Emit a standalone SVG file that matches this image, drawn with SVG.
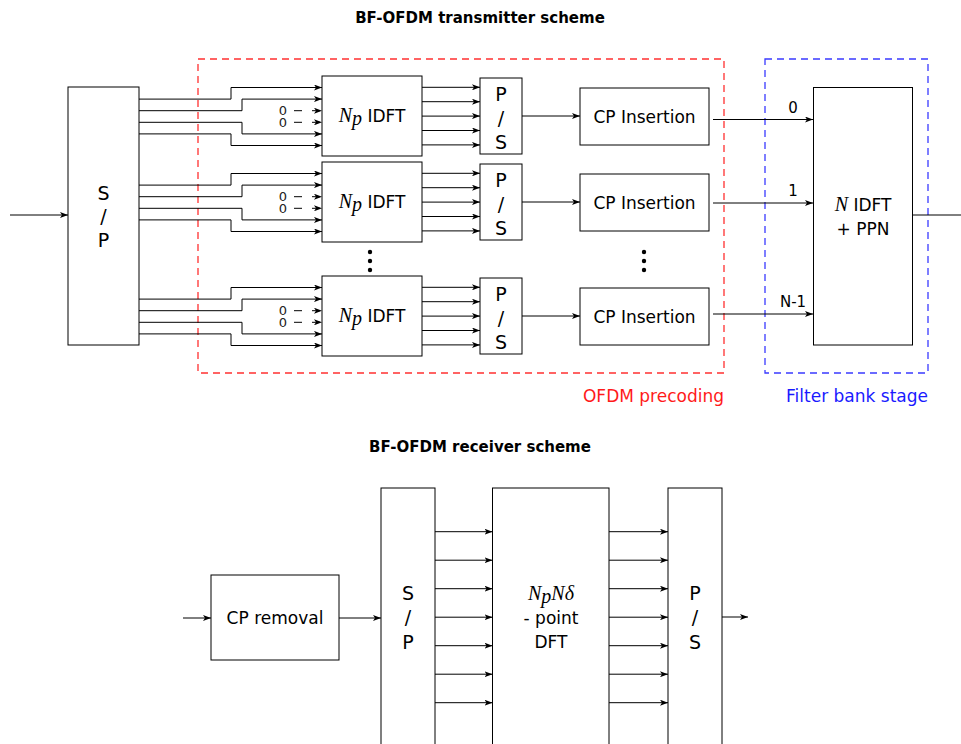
<svg xmlns="http://www.w3.org/2000/svg" width="961" height="744" viewBox="0 0 961 744">
<defs>
<marker id="ah" viewBox="0 0 8 6" refX="8" refY="3" markerWidth="8" markerHeight="6" markerUnits="userSpaceOnUse" orient="auto">
<path d="M0,0 L8,3 L0,6 L2,3 Z" fill="#000"/>
</marker>
<g id="grp">
<path class="ln" d="M139,99.1 H231 V87.5 H322" marker-end="url(#ah)"/>
<path class="ln" d="M139,110.7 H242 V99.1 H322" marker-end="url(#ah)"/>
<path class="ln" d="M139,122.3 H242 V133.9 H322" marker-end="url(#ah)"/>
<path class="ln" d="M139,133.9 H231 V145.5 H322" marker-end="url(#ah)"/>
<line class="dl" x1="294" y1="110.7" x2="322" y2="110.7" marker-end="url(#ah)"/>
<line class="dl" x1="294" y1="122.3" x2="322" y2="122.3" marker-end="url(#ah)"/>
<text class="zero" x="283" y="115.3">0</text>
<text class="zero" x="283" y="126.9">0</text>
<rect class="box" x="322" y="76" width="100" height="80"/>
<text class="t" x="372" y="122"><tspan class="m">N</tspan><tspan class="m" font-size="12" dy="3">p</tspan><tspan dy="-3"> IDFT</tspan></text>
<line class="ln" x1="422" y1="87.3" x2="480" y2="87.3" marker-end="url(#ah)"/>
<line class="ln" x1="422" y1="101.7" x2="480" y2="101.7" marker-end="url(#ah)"/>
<line class="ln" x1="422" y1="116.1" x2="480" y2="116.1" marker-end="url(#ah)"/>
<line class="ln" x1="422" y1="130.5" x2="480" y2="130.5" marker-end="url(#ah)"/>
<line class="ln" x1="422" y1="144.9" x2="480" y2="144.9" marker-end="url(#ah)"/>
<rect class="box" x="480" y="78" width="42" height="76"/>
<text class="t big" x="501" y="100.5">P</text>
<text class="t big" x="501" y="125">/</text>
<text class="t big" x="501" y="148.5">S</text>
<line class="ln" x1="522" y1="116" x2="580" y2="116" marker-end="url(#ah)"/>
<rect class="box" x="580" y="88" width="129" height="57"/>
<text class="t" x="644.5" y="123">CP Insertion</text>
</g>
</defs>
<style>
.box{fill:#fff;stroke:#000;stroke-width:1}
.ln{fill:none;stroke:#000;stroke-width:1}
.dl{fill:none;stroke:#000;stroke-width:1;stroke-dasharray:8,10}
.t{font-family:"DejaVu Sans",sans-serif;font-size:17px;text-anchor:middle;fill:#000}
.big{font-size:19px}
.m{font-family:"Liberation Serif",serif;font-style:italic;font-size:20px}
.zero{font-family:"DejaVu Sans",sans-serif;font-size:13px;text-anchor:middle;fill:#222}
.lbl{font-family:"DejaVu Sans",sans-serif;font-size:15px;text-anchor:middle;fill:#000}
.title{font-family:"DejaVu Sans",sans-serif;font-size:15px;font-weight:bold;text-anchor:middle;fill:#000}
</style>
<rect width="961" height="744" fill="#fff"/>
<text class="title" x="480" y="23">BF-OFDM transmitter scheme</text>
<g id="region-ofdm">
<rect x="198" y="59" width="526" height="314" fill="none" stroke="#ff3030" stroke-width="1.3" stroke-dasharray="7,5"/>
<text x="724" y="402" font-family="DejaVu Sans, sans-serif" font-size="17" fill="#ff1a1a" text-anchor="end">OFDM precoding</text>
</g>
<g id="region-fb">
<rect x="765" y="59" width="163" height="314" fill="none" stroke="#3a3aff" stroke-width="1.3" stroke-dasharray="7,5"/>
<text x="928" y="402" font-family="DejaVu Sans, sans-serif" font-size="17" fill="#1a1aff" text-anchor="end">Filter bank stage</text>
</g>
<g id="connectors">
<line class="ln" x1="10" y1="215" x2="68" y2="215" marker-end="url(#ah)"/>
<line class="ln" x1="713" y1="119.5" x2="813" y2="119.5" marker-end="url(#ah)"/>
<line class="ln" x1="713" y1="203" x2="813" y2="203" marker-end="url(#ah)"/>
<line class="ln" x1="713" y1="314" x2="813" y2="314" marker-end="url(#ah)"/>
<line class="ln" x1="913" y1="215" x2="961" y2="215"/>
<text class="lbl" x="793" y="113">0</text>
<text class="lbl" x="793" y="196">1</text>
<text class="lbl" x="793" y="307">N-1</text>
<line class="ln" x1="183" y1="618" x2="211" y2="618" marker-end="url(#ah)"/>
<line class="ln" x1="339" y1="618" x2="381" y2="618" marker-end="url(#ah)"/>
<line class="ln" x1="722" y1="617" x2="748" y2="617" marker-end="url(#ah)"/>
<g id="rx-arrows">
<line class="ln" x1="435" y1="531.7" x2="492.5" y2="531.7" marker-end="url(#ah)"/>
<line class="ln" x1="435" y1="560.2" x2="492.5" y2="560.2" marker-end="url(#ah)"/>
<line class="ln" x1="435" y1="588.7" x2="492.5" y2="588.7" marker-end="url(#ah)"/>
<line class="ln" x1="435" y1="617.2" x2="492.5" y2="617.2" marker-end="url(#ah)"/>
<line class="ln" x1="435" y1="645.7" x2="492.5" y2="645.7" marker-end="url(#ah)"/>
<line class="ln" x1="435" y1="674.2" x2="492.5" y2="674.2" marker-end="url(#ah)"/>
<line class="ln" x1="435" y1="702.7" x2="492.5" y2="702.7" marker-end="url(#ah)"/>
<line class="ln" x1="609" y1="531.7" x2="668" y2="531.7" marker-end="url(#ah)"/>
<line class="ln" x1="609" y1="560.2" x2="668" y2="560.2" marker-end="url(#ah)"/>
<line class="ln" x1="609" y1="588.7" x2="668" y2="588.7" marker-end="url(#ah)"/>
<line class="ln" x1="609" y1="617.2" x2="668" y2="617.2" marker-end="url(#ah)"/>
<line class="ln" x1="609" y1="645.7" x2="668" y2="645.7" marker-end="url(#ah)"/>
<line class="ln" x1="609" y1="674.2" x2="668" y2="674.2" marker-end="url(#ah)"/>
<line class="ln" x1="609" y1="702.7" x2="668" y2="702.7" marker-end="url(#ah)"/>
</g>
</g>
<g id="tx-sp">
<rect class="box" x="68" y="87" width="71" height="258"/>
<text class="t big" x="103.5" y="199.5">S</text>
<text class="t big" x="103.5" y="223">/</text>
<text class="t big" x="103.5" y="247">P</text>
</g>
<g id="branch-0"><use href="#grp"/></g>
<g id="branch-1"><use href="#grp" y="86"/></g>
<g id="branch-2"><use href="#grp" y="200"/></g>
<g id="dots">
<circle cx="370" cy="252" r="2.2"/><circle cx="370" cy="261" r="2.2"/><circle cx="370" cy="270" r="2.2"/>
<circle cx="644" cy="252" r="2.2"/><circle cx="644" cy="261" r="2.2"/><circle cx="644" cy="270" r="2.2"/>
</g>
<g id="nidft">
<rect class="box" x="813.5" y="87.5" width="99" height="257.5"/>
<text class="t" x="863" y="211"><tspan class="m">N</tspan> IDFT</text>
<text class="t" x="863" y="235">+ PPN</text>
</g>
<text class="title" x="480" y="452">BF-OFDM receiver scheme</text>
<g id="cp-removal">
<rect class="box" x="211" y="575" width="128" height="85"/>
<text class="t" x="275" y="624">CP removal</text>
</g>
<g id="rx-sp">
<rect class="box" x="381" y="488" width="54" height="270"/>
<text class="t big" x="408" y="600">S</text>
<text class="t big" x="408" y="624">/</text>
<text class="t big" x="408" y="649">P</text>
</g>
<g id="dft">
<rect class="box" x="492.5" y="488" width="116.5" height="270"/>
<text class="t" x="551" y="600"><tspan class="m">N</tspan><tspan class="m" font-size="12" dy="3">p</tspan><tspan class="m" dy="-3">Nδ</tspan></text>
<text class="t" x="551" y="624">- point</text>
<text class="t" x="551" y="648">DFT</text>
</g>
<g id="rx-ps">
<rect class="box" x="668" y="488" width="54" height="270"/>
<text class="t big" x="695" y="600">P</text>
<text class="t big" x="695" y="624">/</text>
<text class="t big" x="695" y="649">S</text>
</g>
</svg>
